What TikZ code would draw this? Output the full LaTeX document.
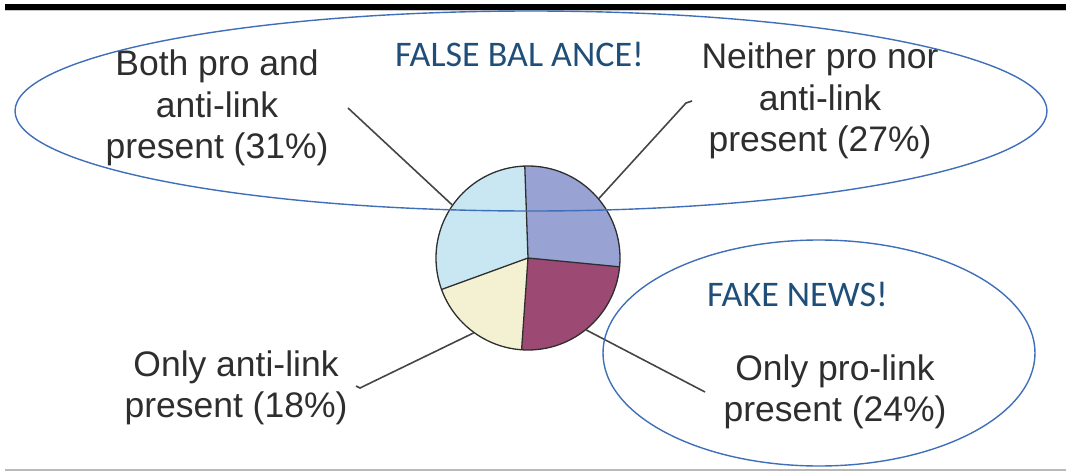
\documentclass[tikz,border=0pt]{standalone}
\usepackage{fontspec}
\setmainfont{Liberation Sans}
\newfontfamily\calib{Carlito}
\usetikzlibrary{shapes.geometric}
\definecolor{labelgray}{HTML}{2E2E2E}
\definecolor{leadgray}{HTML}{454545}
\definecolor{callblue}{HTML}{1F4E79}
\definecolor{ringblue}{HTML}{3F6FB8}
\definecolor{sliceboth}{HTML}{C8E7F2}
\definecolor{sliceneither}{HTML}{98A2D3}
\definecolor{slicepro}{HTML}{9C4A74}
\definecolor{sliceanti}{HTML}{F4F1D2}
\tikzset{
  lbl/.style={text=labelgray, align=center, font=\fontsize{35.5}{41.5}\selectfont, inner sep=0pt},
  callout/.style={text=callblue, font=\calib\fontsize{36}{40}\selectfont, inner sep=0pt, anchor=base west},
  ring/.style={draw=ringblue, line width=1.4pt},
  leader/.style={draw=leadgray, line width=1.6pt},
  slice/.style={draw=labelgray, line width=1.3pt}
}
\begin{document}
\begin{tikzpicture}[x=1pt,y=-1pt]
\useasboundingbox (0,0) rectangle (1066,471);
% frame rules
\fill[black] (5,3.5) rectangle (1066,9.5);
\fill[gray!45] (5,9.5) rectangle (1066,11);
\fill[gray!55] (5,469) rectangle (1066,471);
% pie
\coordinate (c) at (528,258);
\fill[sliceneither] (c) -- +(-92:92) arc[start angle=-92, end angle=5.5, radius=92] -- cycle;
\fill[slicepro] (c) -- +(5.5:92) arc[start angle=5.5, end angle=94, radius=92] -- cycle;
\fill[sliceanti] (c) -- +(94:92) arc[start angle=94, end angle=160, radius=92] -- cycle;
\fill[sliceboth] (c) -- +(160:92) arc[start angle=160, end angle=268, radius=92] -- cycle;
\draw[slice] (c) -- +(-92:92) (c) -- +(5.5:92) (c) -- +(94:92) (c) -- +(160:92);
\node[slice, circle, minimum size=184pt, inner sep=0pt] (pie) at (c) {};
% labels
\node[lbl] (both) at (217,108) {Both pro and\\anti-link\\present (31\%)};
\node[lbl] (neither) at (820,101) {Neither pro nor\\anti-link\\present (27\%)};
\node[lbl] (anti) at (236,388) {Only anti-link\\present (18\%)};
\node[lbl] (pro) at (835,392) {Only pro-link\\present (24\%)};
% leaders
\coordinate (bothEnd) at (348,108);
\coordinate (neitherEnd) at (686,103);
\coordinate (neitherTip) at (692,101);
\coordinate (antiEnd) at (360,388);
\coordinate (antiTip) at (356,386);
\coordinate (proEnd) at (705,392);
\draw[leader] (pie.145) -- (bothEnd);
\draw[leader] (pie.40) -- (neitherEnd) -- (neitherTip);
\draw[leader] (pie.234) -- (antiEnd) -- (antiTip);
\draw[leader] (pie.309) -- (proEnd);
% callout rings
\node[ring, ellipse, minimum width=1032pt, minimum height=200pt, inner sep=0pt] (balance) at (531,111) {};
\node[ring, ellipse, minimum width=432pt, minimum height=226pt, inner sep=0pt] (fake) at (819,353) {};
\node[callout] (balanceText) at (395,66) {FALSE BAL ANCE!};
\node[callout] (fakeText) at (707,306) {FAKE NEWS!};
\end{tikzpicture}
\end{document}
